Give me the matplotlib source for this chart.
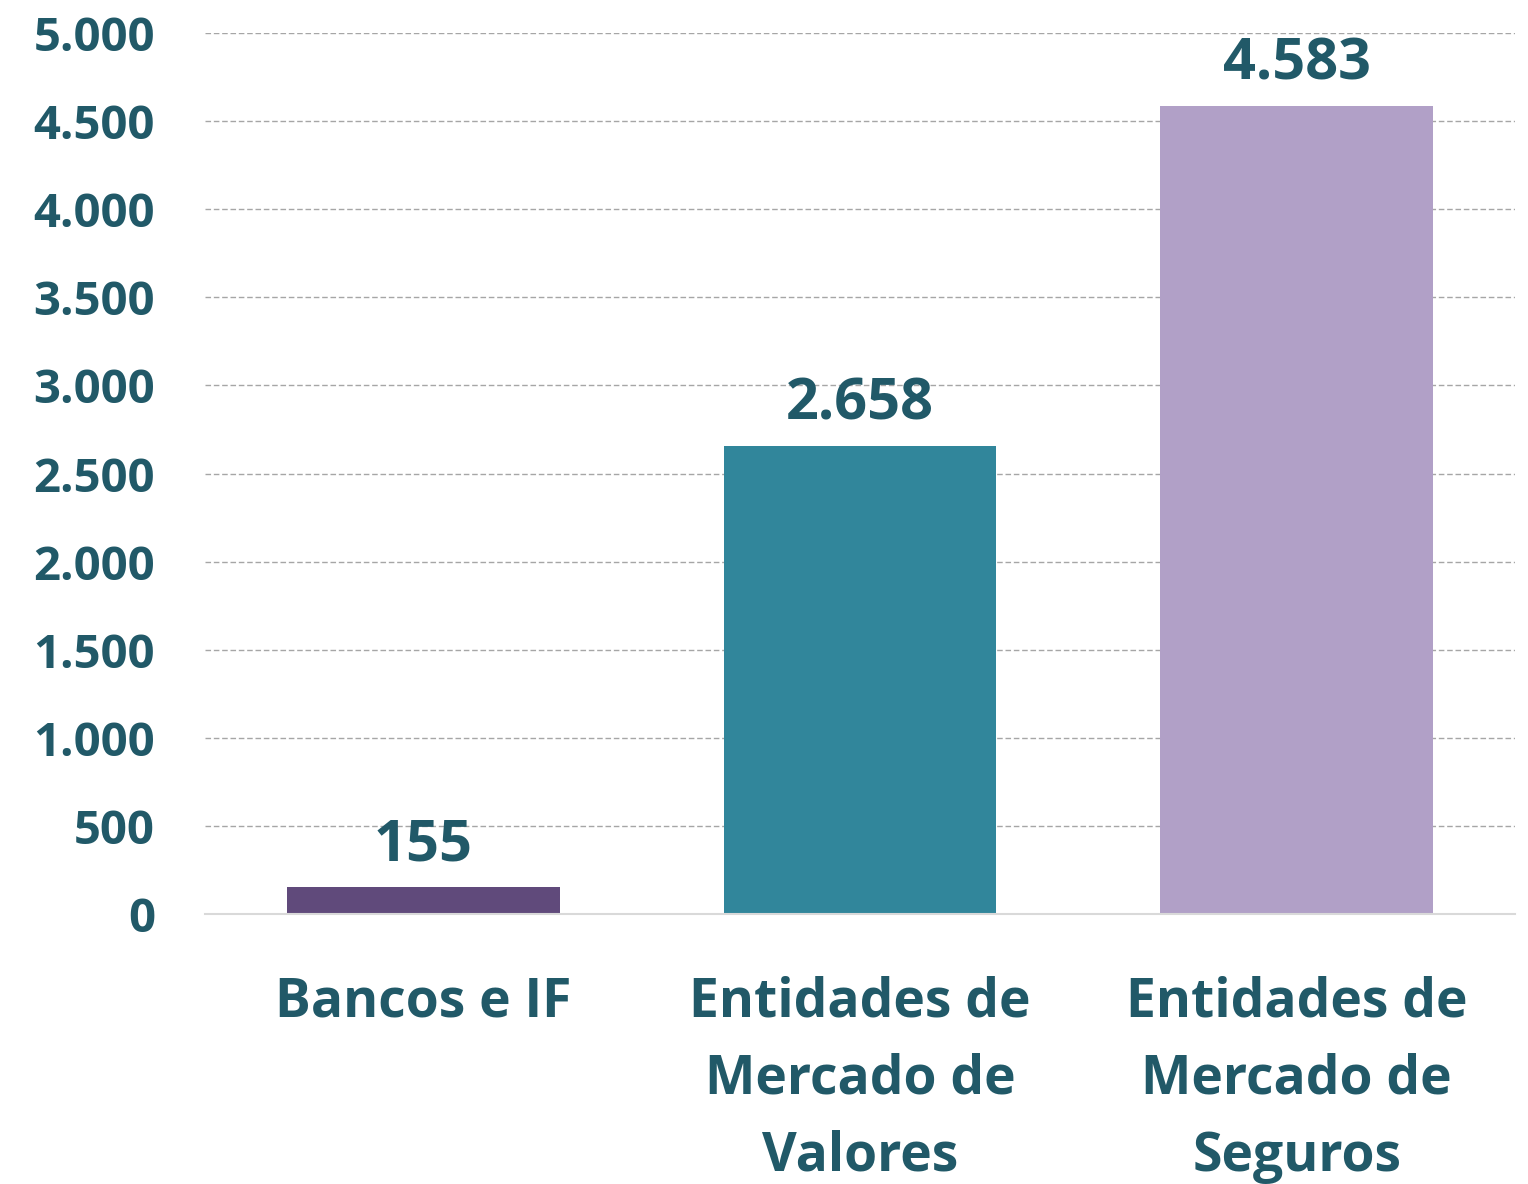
import matplotlib
matplotlib.use("Agg")
import matplotlib.pyplot as plt
from matplotlib.ticker import FuncFormatter

categories = ["Bancos e IF", "Entidades de\nMercado de\nValores", "Entidades de\nMercado de\nSeguros"]
values = [155, 2658, 4583]
colors = ["#604A7B", "#31869B", "#B1A0C7"]
yticks = [0, 500, 1000, 1500, 2000, 2500, 3000, 3500, 4000, 4500, 5000]

TXT = "#215968"
FONT = "Open Sans"

def fmt(v):
    return f"{int(v):,}".replace(",", ".")

fig = plt.figure(figsize=(15.28, 11.84), dpi=100)
ax = fig.add_axes([205/1528, 270/1184, (1515-205)/1528, (914-33)/1184])

x = list(range(len(values)))
bars = ax.bar(x, values, width=0.625, color=colors, zorder=3)

ax.set_xlim(-0.5, 2.5)
ax.set_ylim(0, 5000)
ax.set_yticks(yticks)
ax.yaxis.set_major_formatter(FuncFormatter(lambda v, p: fmt(v)))
ax.set_xticks(x)
ax.set_xticklabels(categories, fontsize=38.5, fontweight="bold", color=TXT,
                   family=FONT, linespacing=1.57)
for lab in ax.get_yticklabels():
    lab.set_fontsize(34)
    lab.set_fontweight("bold")
    lab.set_color(TXT)
    lab.set_family(FONT)

ax.tick_params(axis="y", length=0, pad=36)
ax.tick_params(axis="x", length=0, pad=44)

for s in ["top", "right", "left"]:
    ax.spines[s].set_visible(False)
ax.spines["bottom"].set_color("#D9D9D9")
ax.spines["bottom"].set_linewidth(1.5)
ax.spines["bottom"].set_zorder(4)

ax.yaxis.grid(True, color="#A6A6A6", linestyle=(0, (4, 2)), linewidth=1.0, zorder=0)
ax.set_axisbelow(True)
for gl in ax.get_ygridlines()[:1]:
    gl.set_visible(False)

for xi, v in zip(x, values):
    ax.annotate(fmt(v), (xi, v), xytext=(0, 9), textcoords="offset points",
                ha="center", va="bottom", fontsize=41.5, fontweight="bold",
                color=TXT, family=FONT)

fig.savefig("out.png", dpi=100, facecolor="white")
